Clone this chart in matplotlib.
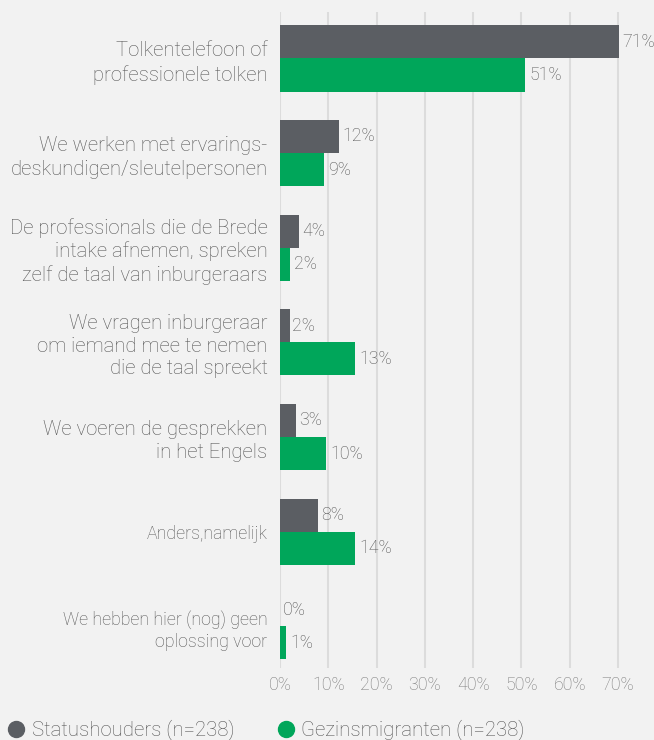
import matplotlib
matplotlib.use("Agg")
import matplotlib.pyplot as plt
from matplotlib.lines import Line2D
import numpy as np

categories = [
    "Tolkentelefoon of\nprofessionele tolken",
    "We werken met ervarings-\ndeskundigen/sleutelpersonen",
    "De professionals die de Brede\nintake afnemen, spreken\nzelf de taal van inburgeraars",
    "We vragen inburgeraar\nom iemand mee te nemen\ndie de taal spreekt",
    "We voeren de gesprekken\nin het Engels",
    "Anders,namelijk",
    "We hebben hier (nog) geen\noplossing voor",
]
status_vals = [70.3, 12.3, 4.0, 2.0, 3.4, 7.9, 0.0]
gezin_vals = [50.8, 9.2, 2.0, 15.6, 9.6, 15.6, 1.2]
status_labels = ["71%", "12%", "4%", "2%", "3%", "8%", "0%"]
gezin_labels = ["51%", "9%", "2%", "13%", "10%", "14%", "1%"]
xticks = [0, 10, 20, 30, 40, 50, 60, 70]
xticklabels = ["0%", "10%", "20%", "30%", "40%", "50%", "60%", "70%"]
series_names = ["Statushouders (n=238)", "Gezinsmigranten (n=238)"]

# per-category text styling
cat_sizes = [14.6, 14.6, 14.6, 14.6, 14.6, 12.8, 12.8]
cat_spacing = [1.36, 1.3, 1.24, 1.24, 1.28, 1.3, 1.3]

BG = "#f2f2f2"
GRAY = "#5b5e63"
GREEN = "#00a65a"
TXT = "#555555"

plt.rcParams["font.family"] = ["Roboto", "DejaVu Sans"]
plt.rcParams["font.weight"] = "light"

fig = plt.figure(figsize=(6.54, 7.40), dpi=100, facecolor=BG)
W, H = 654, 740
ax = fig.add_axes([280 / W, (H - 668) / H, 1 - 280 / W, (668 - 12) / H])
ax.set_facecolor(BG)

y = np.arange(len(categories))
h = 0.35
ax.barh(y - h / 2, status_vals, height=h, color=GRAY, zorder=3)
ax.barh(y + h / 2, gezin_vals, height=h, color=GREEN, zorder=3)

for i in range(len(categories)):
    ax.annotate(status_labels[i], (status_vals[i], y[i] - h / 2), xytext=(2, 0),
                textcoords="offset points", va="center", ha="left",
                fontsize=12.8, color=TXT, fontweight="light")
    ax.annotate(gezin_labels[i], (gezin_vals[i], y[i] + h / 2), xytext=(3, 0),
                textcoords="offset points", va="center", ha="left",
                fontsize=12.8, color=TXT, fontweight="light")

ax.set_xlim(0, (W - 280) / 4.829)
ax.set_ylim(6.44, -0.49)
ax.set_xticks(xticks)
ax.set_xticklabels(xticklabels, fontsize=12.8, color="#7a7a7a", fontweight="light")
ax.set_yticks(y)
ax.set_yticklabels(categories, fontweight="light", color=TXT)
for lab, s, ls in zip(ax.get_yticklabels(), cat_sizes, cat_spacing):
    lab.set_fontsize(s)
    lab.set_linespacing(ls)
    lab.set_multialignment("right")
ax.tick_params(axis="both", length=0)
ax.tick_params(axis="y", pad=9)
ax.tick_params(axis="x", pad=6)
for sp in ax.spines.values():
    sp.set_visible(False)
ax.grid(axis="x", color="#dcdcdc", linewidth=1.5, zorder=0)
ax.set_axisbelow(True)

handles = [Line2D([], [], marker="o", linestyle="", markersize=11.5, color=GRAY),
           Line2D([], [], marker="o", linestyle="", markersize=11.5, color=GREEN)]
fig.legend(handles, series_names, loc="center left", bbox_to_anchor=(6 / W, 10 / H),
           ncol=2, frameon=False, fontsize=14.7, handletextpad=0.25,
           columnspacing=2.05, labelcolor=TXT, borderaxespad=0, borderpad=0,
           handlelength=1.0)

fig.savefig("out.png", dpi=100, facecolor=BG)
